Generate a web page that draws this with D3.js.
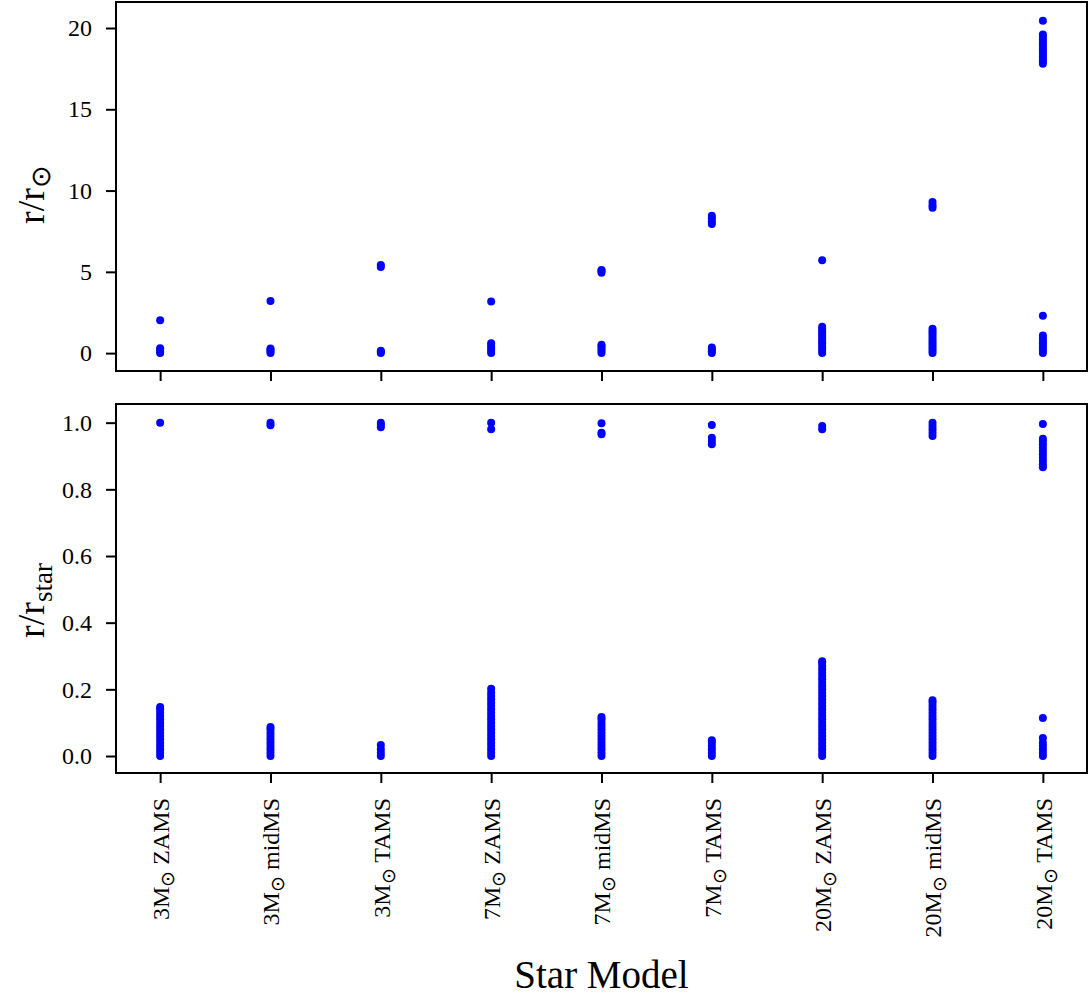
<!DOCTYPE html>
<html>
<head>
<meta charset="utf-8">
<script src="https://cdn.jsdelivr.net/npm/d3@7"></script>
<style>
  body { margin: 0; background: #fff; }
  text { font-family: "Liberation Serif", "Times New Roman", serif; fill: #000; }
</style>
</head>
<body>
<svg id="chart"></svg>
<script>
// categories (x axis)
const masses = ["3", "3", "3", "7", "7", "7", "20", "20", "20"];
const phases = ["ZAMS", "midMS", "TAMS", "ZAMS", "midMS", "TAMS", "ZAMS", "midMS", "TAMS"];

// tick labels
const topTicks = [0, 5, 10, 15, 20];
const bottomTicks = [0.0, 0.2, 0.4, 0.6, 0.8, 1.0];

// r / r_sun  (top panel)
const rSun3ZAMS  = [0, 0.1, 0.2, 0.3, 2.02];
const rSun3midMS = [0, 0.1, 0.2, 0.28, 3.2];
const rSun3TAMS  = [0, 0.08, 0.15, 5.3, 5.42];
const rSun7ZAMS  = [0, 0.15, 0.3, 0.45, 0.6, 3.18];
const rSun7midMS = [0, 0.14, 0.28, 0.42, 0.52, 4.95, 5.05, 5.12];
const rSun7TAMS  = [0, 0.12, 0.24, 0.35, 7.95, 8.1, 8.3, 8.45];
const rSun20ZAMS = [0, 0.15, 0.3, 0.45, 0.6, 0.75, 0.9, 1.05, 1.2, 1.35, 1.5, 1.62, 5.72];
const rSun20midMS = [0, 0.15, 0.3, 0.45, 0.6, 0.75, 0.9, 1.05, 1.2, 1.35, 1.5, 8.95, 9.1, 9.3];
const rSun20TAMS = [0, 0.15, 0.3, 0.45, 0.6, 0.75, 0.9, 1.08, 2.3,
                    17.8, 17.95, 18.1, 18.25, 18.4, 18.55, 18.7, 18.85, 19.0, 19.15, 19.3, 19.45, 19.6, 20.45];

// r / r_star  (bottom panel)
const rStar3ZAMS  = [0, 0.01, 0.02, 0.03, 0.04, 0.05, 0.06, 0.07, 0.08, 0.09, 0.1, 0.11, 0.12, 0.13, 0.14, 0.147, 1.0];
const rStar3midMS = [0, 0.01, 0.02, 0.03, 0.04, 0.05, 0.06, 0.07, 0.08, 0.087, 0.992, 1.0];
const rStar3TAMS  = [0, 0.01, 0.02, 0.033, 0.986, 0.993, 1.0];
const rStar7ZAMS  = [0, 0.01, 0.02, 0.03, 0.04, 0.05, 0.06, 0.07, 0.08, 0.09, 0.1, 0.11, 0.12, 0.13, 0.14,
                     0.15, 0.16, 0.17, 0.18, 0.19, 0.202, 0.98, 1.0];
const rStar7midMS = [0, 0.01, 0.02, 0.03, 0.04, 0.05, 0.06, 0.07, 0.08, 0.09, 0.1, 0.11, 0.117, 0.965, 0.97, 0.998];
const rStar7TAMS  = [0, 0.01, 0.02, 0.03, 0.04, 0.047, 0.935, 0.945, 0.955, 0.993];
const rStar20ZAMS = [0, 0.01, 0.02, 0.03, 0.04, 0.05, 0.06, 0.07, 0.08, 0.09, 0.1, 0.11, 0.12, 0.13, 0.14,
                     0.15, 0.16, 0.17, 0.18, 0.19, 0.2, 0.21, 0.22, 0.23, 0.24, 0.25, 0.26, 0.27, 0.28, 0.284,
                     0.98, 0.99];
const rStar20midMS = [0, 0.01, 0.02, 0.03, 0.04, 0.05, 0.06, 0.07, 0.08, 0.09, 0.1, 0.11, 0.12, 0.13, 0.14,
                      0.15, 0.16, 0.167, 0.96, 0.97, 0.98, 0.99, 1.0];
const rStar20TAMS = [0, 0.01, 0.02, 0.03, 0.04, 0.054, 0.114,
                     0.866, 0.875, 0.885, 0.895, 0.905, 0.915, 0.925, 0.935, 0.945, 0.952, 0.996];

const rSunSeries = [rSun3ZAMS, rSun3midMS, rSun3TAMS, rSun7ZAMS, rSun7midMS, rSun7TAMS,
                    rSun20ZAMS, rSun20midMS, rSun20TAMS];
const rStarSeries = [rStar3ZAMS, rStar3midMS, rStar3TAMS, rStar7ZAMS, rStar7midMS, rStar7TAMS,
                     rStar20ZAMS, rStar20midMS, rStar20TAMS];

const width = 1089, height = 996;
const left = 116, right = 1087;
const topPanel = {y0: 2, y1: 371};
const botPanel = {y0: 404, y1: 773};

const svg = d3.select("#chart").attr("width", width).attr("height", height);

const xscale = d3.scaleLinear().domain([-0.4, 8.4]).range([left, right]);
const yTop = d3.scaleLinear().domain([-1.1, 21.6]).range([topPanel.y1, topPanel.y0]);
const yBot = d3.scaleLinear().domain([-0.051, 1.056]).range([botPanel.y1, botPanel.y0]);

function flatten(series) {
    const pts = [];
    series.forEach((vals, i) => vals.forEach(v => pts.push({i: i, v: v})));
    return pts;
}

// y axes
function drawYAxis(yscale, ticks, fmt) {
    const g = svg.append("g")
        .attr("transform", `translate(${left},0)`)
        .call(d3.axisLeft(yscale).tickValues(ticks).tickSize(10).tickPadding(14).tickFormat(fmt));
    g.select(".domain").remove();
    g.selectAll(".tick line").attr("stroke", "#000").attr("stroke-width", 2);
    g.selectAll(".tick text").attr("font-size", 24)
        .style("font-family", '"Liberation Serif", "Times New Roman", serif');
}
drawYAxis(yTop, topTicks, d3.format("d"));
drawYAxis(yBot, bottomTicks, d3.format(".1f"));

// x axes (ticks on both panels, labels only on the bottom one)
function drawXAxis(y, withLabels) {
    const g = svg.append("g")
        .attr("transform", `translate(0,${y})`)
        .call(d3.axisBottom(xscale).tickValues(d3.range(masses.length)).tickSize(10).tickFormat(""));
    g.select(".domain").remove();
    g.selectAll(".tick line").attr("stroke", "#000").attr("stroke-width", 2);
    if (withLabels) {
        g.selectAll(".tick").each(function(d) {
            const t = d3.select(this).append("text")
                .attr("transform", "translate(0,25) rotate(-90)")
                .attr("text-anchor", "end")
                .attr("dy", "0.35em")
                .attr("font-size", 24)
                .attr("fill", "#000");
            t.append("tspan").text(masses[d] + "M");
            t.append("tspan").attr("dy", 5).attr("font-size", 19).text("\u2299");
            t.append("tspan").attr("dy", -5).text(" " + phases[d]);
        });
    }
}
drawXAxis(topPanel.y1, false);
drawXAxis(botPanel.y1, true);

// points
svg.append("g").selectAll("circle").data(flatten(rSunSeries)).join("circle")
    .attr("cx", d => xscale(d.i))
    .attr("cy", d => yTop(d.v))
    .attr("r", 4)
    .attr("fill", "#0000ff");

svg.append("g").selectAll("circle").data(flatten(rStarSeries)).join("circle")
    .attr("cx", d => xscale(d.i))
    .attr("cy", d => yBot(d.v))
    .attr("r", 4)
    .attr("fill", "#0000ff");

// frames
[topPanel, botPanel].forEach(p => {
    svg.append("rect")
        .attr("x", left).attr("y", p.y0)
        .attr("width", right - left).attr("height", p.y1 - p.y0)
        .attr("fill", "none").attr("stroke", "#000").attr("stroke-width", 2);
});

// axis labels
const yl1 = svg.append("text")
    .attr("transform", `translate(44,${(topPanel.y0 + topPanel.y1) / 2 + 8}) rotate(-90)`)
    .attr("text-anchor", "middle").attr("font-size", 38);
yl1.append("tspan").text("r/r");
yl1.append("tspan").attr("dy", 6).attr("font-size", 27).text("\u2299");

const yl2 = svg.append("text")
    .attr("transform", `translate(44,${(botPanel.y0 + botPanel.y1) / 2 + 12}) rotate(-90)`)
    .attr("text-anchor", "middle").attr("font-size", 38);
yl2.append("tspan").text("r/r");
yl2.append("tspan").attr("dy", 8).attr("font-size", 27).text("star");

svg.append("text")
    .attr("x", (left + right) / 2).attr("y", 988)
    .attr("text-anchor", "middle").attr("font-size", 39)
    .text("Star Model");
</script>
</body>
</html>
